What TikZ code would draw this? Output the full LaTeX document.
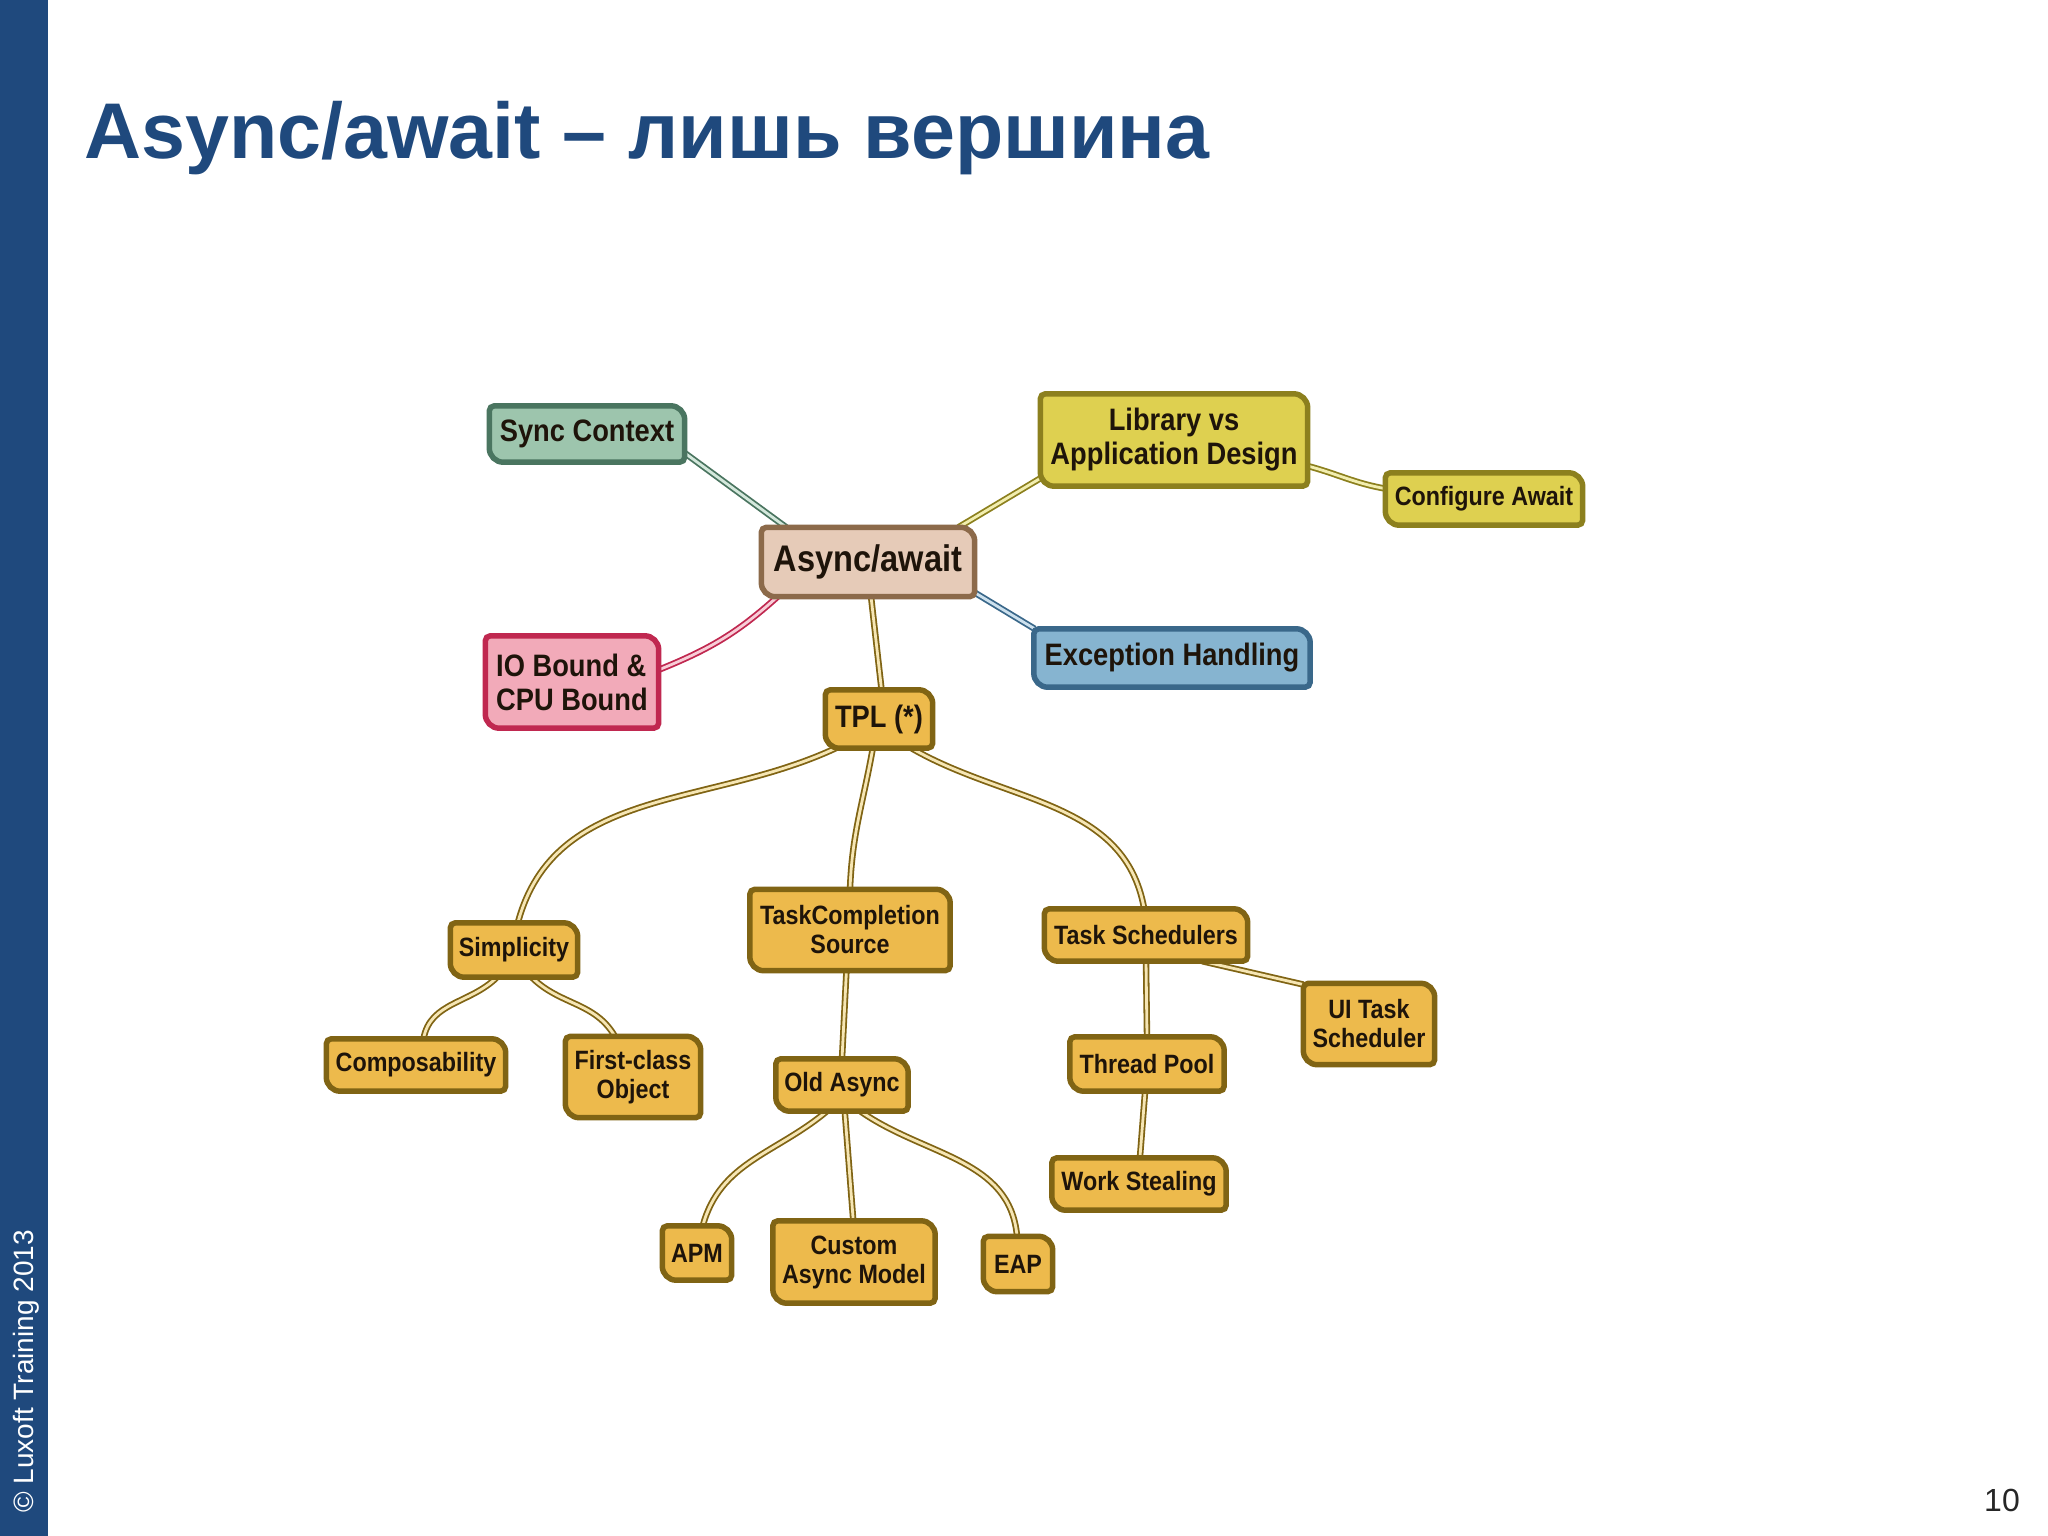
\documentclass[tikz,border=0pt]{standalone}
\usepackage{fontspec}
\setmainfont{Liberation Sans}
\newfontfamily\nodefont{Liberation Sans}[FakeStretch=0.88]
\pgfdeclarelayer{back}
\pgfdeclarelayer{edges}
\pgfdeclarelayer{boxes}
\pgfsetlayers{back,edges,boxes,main}

\definecolor{barblue}{RGB}{31,73,125}
\definecolor{nodetext}{RGB}{30,20,10}
\definecolor{syncfill}{RGB}{157,197,173}
\definecolor{syncdraw}{RGB}{74,117,96}
\definecolor{synclight}{RGB}{212,232,220}
\definecolor{libfill}{RGB}{222,208,80}
\definecolor{libdraw}{RGB}{140,128,30}
\definecolor{liblight}{RGB}{242,238,175}
\definecolor{rootfill}{RGB}{230,203,184}
\definecolor{rootdraw}{RGB}{140,106,74}
\definecolor{iofill}{RGB}{242,170,185}
\definecolor{iodraw}{RGB}{192,40,80}
\definecolor{iolight}{RGB}{248,205,215}
\definecolor{excfill}{RGB}{134,180,208}
\definecolor{excdraw}{RGB}{58,104,138}
\definecolor{exclight}{RGB}{205,225,238}
\definecolor{goldfill}{RGB}{237,186,76}
\definecolor{golddraw}{RGB}{128,100,20}
\definecolor{goldlight}{RGB}{246,230,180}

\newcommand\mmbox[3]{%
  \begin{pgfonlayer}{boxes}
  \path[fill=#2, draw=#3, line width=5.5pt]
    ([xshift=5pt]#1.north west) -- ([xshift=-14pt]#1.north east)
    arc[start angle=90, end angle=0, radius=14pt]
    -- ([yshift=5pt]#1.south east)
    arc[start angle=0, end angle=-90, radius=5pt]
    -- ([xshift=14pt]#1.south west)
    arc[start angle=270, end angle=180, radius=14pt]
    -- ([yshift=-5pt]#1.north west)
    arc[start angle=180, end angle=90, radius=5pt] -- cycle;
  \end{pgfonlayer}}

\tikzset{
  mm/.style={inner sep=0pt, text=nodetext, align=center,
    font=\nodefont\bfseries\fontsize{26.5}{29}\selectfont},
  lvone/.style={mm, font=\nodefont\bfseries\fontsize{31}{34}\selectfont},
  lvroot/.style={mm, font=\nodefont\bfseries\fontsize{37}{40}\selectfont},
  link/.style={line width=1.8pt, double distance=2.8pt},
  lgold/.style={link, draw=golddraw, double=goldlight},
  lsync/.style={link, draw=syncdraw, double=synclight},
  llib/.style={link, draw=libdraw, double=liblight},
  lio/.style={link, draw=iodraw, double=iolight},
  lexc/.style={link, draw=excdraw, double=exclight},
}

\begin{document}
\begin{tikzpicture}[x=1pt, y=-1pt]
\useasboundingbox (0,0) rectangle (2048,1536);
\begin{pgfonlayer}{back}
\fill[white] (0,0) rectangle (2048,1536);
\fill[barblue] (0,0) rectangle (48,1536);
\end{pgfonlayer}

\node[inner sep=0pt, anchor=base west, text=barblue,
  font=\bfseries\fontsize{79}{90}\selectfont] (title) at (84,158)
  {Async/await – лишь вершина};
\node[inner sep=0pt, anchor=base west, rotate=90, text=white,
  font=\fontsize{28}{32}\selectfont] (copy) at (33,1513)
  {© Luxoft Training 2013};
\node[inner sep=0pt, anchor=base east, text=black!85,
  font=\fontsize{32}{36}\selectfont] (page) at (2020,1511) {10};

% nodes
\node[lvone, minimum width=195pt, minimum height=56pt] (sync) at (587,434) {Sync Context};
\node[lvone, minimum width=267pt, minimum height=92pt] (lib) at (1174,440) {Library vs\\Application Design};
\node[mm, minimum width=197pt, minimum height=52pt] (conf) at (1484,499) {Configure Await};
\node[lvroot, minimum width=213pt, minimum height=69pt] (root) at (868,562) {Async/await};
\node[lvone, minimum width=173pt, minimum height=92pt, align=left] (io) at (572,682) {IO Bound \&\\CPU Bound};
\node[lvone, minimum width=276pt, minimum height=58pt] (exc) at (1172,658) {Exception Handling};
\node[lvone, minimum width=107pt, minimum height=58pt] (tpl) at (879,719) {TPL (*)};
\node[mm, minimum width=127pt, minimum height=54pt] (simp) at (514,950) {Simplicity};
\node[mm, minimum width=200pt, minimum height=81pt] (tcs) at (850,930) {TaskCompletion\\Source};
\node[mm, minimum width=203pt, minimum height=52pt] (ts) at (1146,935) {Task Schedulers};
\node[mm, minimum width=131pt, minimum height=81pt] (ui) at (1369,1024) {UI Task\\Scheduler};
\node[mm, minimum width=179pt, minimum height=52pt] (comp) at (416,1065) {Composability};
\node[mm, minimum width=135pt, minimum height=81pt] (fco) at (633,1077) {First-class\\Object};
\node[mm, minimum width=132pt, minimum height=52pt] (oa) at (842,1085) {Old Async};
\node[mm, minimum width=154pt, minimum height=54pt] (tp) at (1147,1064) {Thread Pool};
\node[mm, minimum width=174pt, minimum height=52pt] (ws) at (1139,1184) {Work Stealing};
\node[mm, minimum width=69pt, minimum height=54pt] (apm) at (697,1253) {APM};
\node[mm, minimum width=162pt, minimum height=82pt] (cam) at (854,1262) {Custom\\Async Model};
\node[mm, minimum width=69pt, minimum height=55pt] (eap) at (1018,1264) {EAP};

% boxes
\mmbox{sync}{syncfill}{syncdraw}
\mmbox{lib}{libfill}{libdraw}
\mmbox{conf}{libfill}{libdraw}
\mmbox{root}{rootfill}{rootdraw}
\mmbox{io}{iofill}{iodraw}
\mmbox{exc}{excfill}{excdraw}
\foreach \n in {tpl,simp,tcs,ts,ui,comp,fco,oa,tp,ws,apm,cam,eap}
  {\mmbox{\n}{goldfill}{golddraw}}

% connectors
\begin{pgfonlayer}{edges}
\draw[lsync] (sync.-11) -- (root.157);
\draw[llib] (lib.196) -- (root.21);
\draw[llib] (lib.-11) to[out=-15, in=170] (conf.174);
\draw[lio] (io.8) to[out=22, in=222] (root.201);
\draw[lexc] (exc.168) -- (root.-16);
\draw[lgold] (root.-85) -- (tpl.85);
\draw[lgold] (tpl.214) to[out=205, in=75] (simp.82);
\draw[lgold] (tpl.-102) to[out=-100, in=88] (tcs.90);
\draw[lgold] (tpl.-42) to[out=-30, in=100] (ts.94);
\draw[lgold] (simp.-122) to[out=-135, in=80] (comp.74);
\draw[lgold] (simp.-57) to[out=-45, in=120] (fco.114);
\draw[lgold] (tcs.-95) -- (oa.90);
\draw[lgold] (ts.-25) -- (ui.149);
\draw[lgold] (ts.south) -- (tp.north);
\draw[lgold] (tp.-94) -- (ws.88);
\draw[lgold] (oa.-120) to[out=-140, in=75] (apm.78);
\draw[lgold] (oa.-84) -- (cam.91);
\draw[lgold] (oa.-55) to[out=-35, in=95] (eap.92);
\end{pgfonlayer}
\end{tikzpicture}
\end{document}
